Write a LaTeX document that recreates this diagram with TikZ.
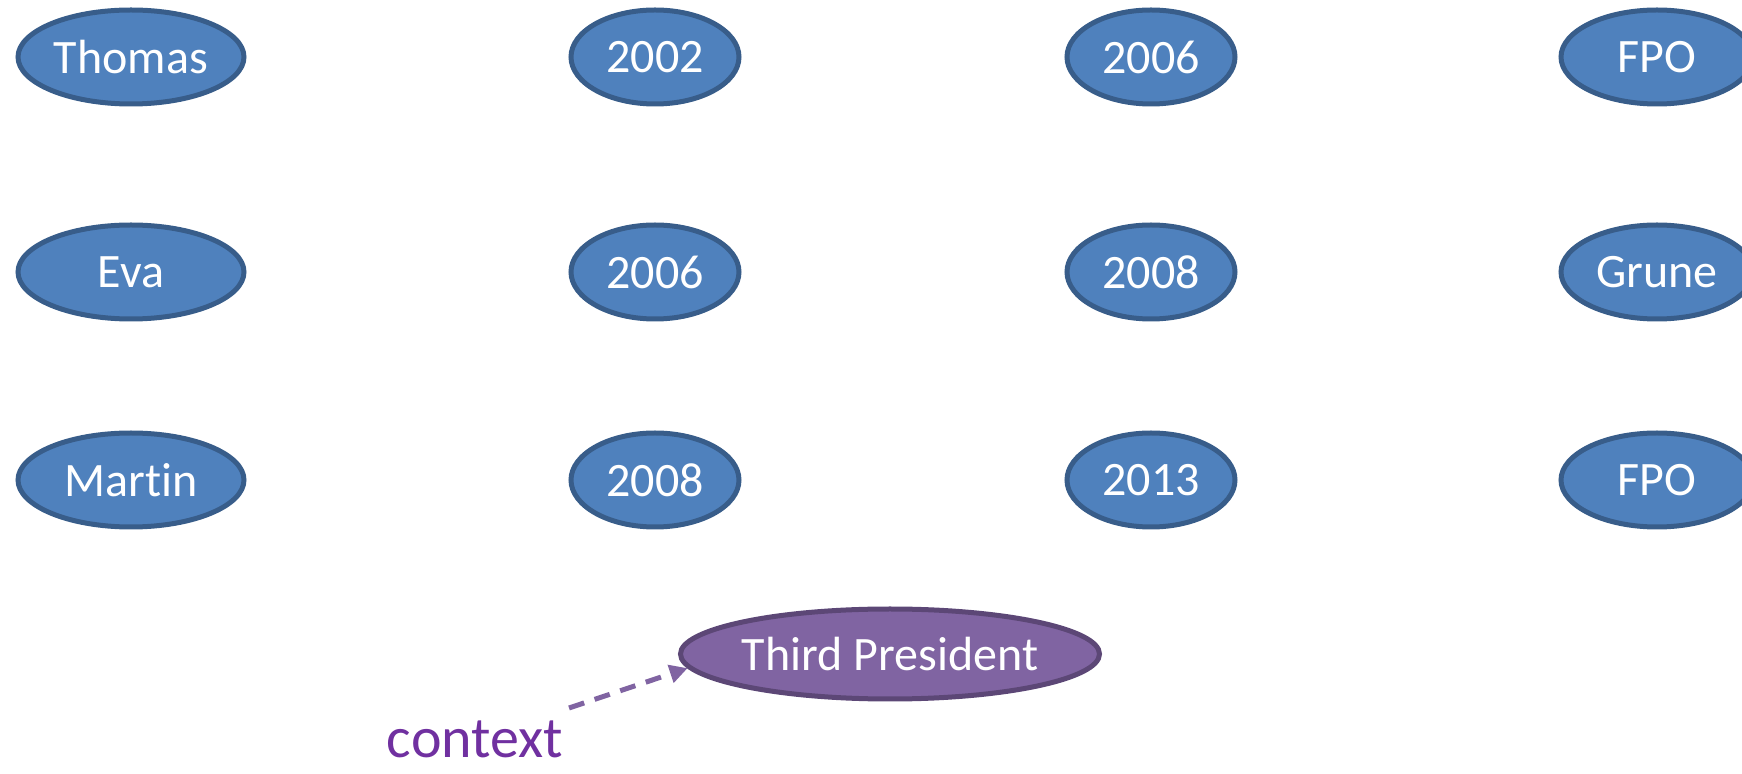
\documentclass[tikz,border=0pt]{standalone}
\usepackage{fontspec}
\setmainfont{Carlito}[Ligatures=NoCommon]
\usetikzlibrary{shapes.geometric,arrows.meta}
\definecolor{nodeblue}{HTML}{4F81BD}
\definecolor{nodeblueedge}{HTML}{385D8A}
\definecolor{nodepurple}{HTML}{8064A2}
\definecolor{nodepurpleedge}{HTML}{5C4776}
\definecolor{ctxpurple}{HTML}{7030A0}
\tikzset{
  oval/.style={ellipse, draw=nodeblueedge, fill=nodeblue, line width=2.5pt,
    inner sep=0pt, minimum height=47pt, text=white,
    font=\fontsize{24}{28}\selectfont},
  namebox/.style={oval, minimum width=113pt},
  yearbox/.style={oval, minimum width=84pt},
  partybox/.style={oval, minimum width=96pt},
  querybox/.style={oval, draw=nodepurpleedge, fill=nodepurple,
    minimum width=209pt, minimum height=45pt},
  ctxlabel/.style={text=ctxpurple, inner sep=0pt, anchor=base,
    font=\fontsize{29}{34}\selectfont},
  ctxarrow/.style={draw=nodepurple, line width=2.5pt, dash pattern=on 8pt off 5.5pt,
    -{Triangle[length=9pt,width=9pt]}}
}
\begin{document}
\begin{tikzpicture}[x=0.5pt,y=-0.5pt]
\useasboundingbox (0,0) rectangle (1742,774);
\clip (0,0) rectangle (1742,774);

% row 1
\node[namebox]  (n1) at (131,57)  {Thomas};
\node[yearbox]  (a1) at (655,57)  {2002};
\node[yearbox]  (b1) at (1151,57) {2006};
\node[partybox] (p1) at (1657,57) {FPO};
% row 2
\node[namebox]  (n2) at (131,272)  {Eva};
\node[yearbox]  (a2) at (655,272)  {2006};
\node[yearbox]  (b2) at (1151,272) {2008};
\node[partybox] (p2) at (1657,272) {Grune};
% row 3
\node[namebox]  (n3) at (131,480)  {Martin};
\node[yearbox]  (a3) at (655,480)  {2008};
\node[yearbox]  (b3) at (1151,480) {2013};
\node[partybox] (p3) at (1657,480) {FPO};

% query node and its context
\node[querybox] (tp) at (890,654) {Third President};
\node[ctxlabel] (ctx) at (475,758) {context};
\coordinate (ctxstart) at (569,708);
\draw[ctxarrow] (ctxstart) -- (tp.184);
\end{tikzpicture}
\end{document}
